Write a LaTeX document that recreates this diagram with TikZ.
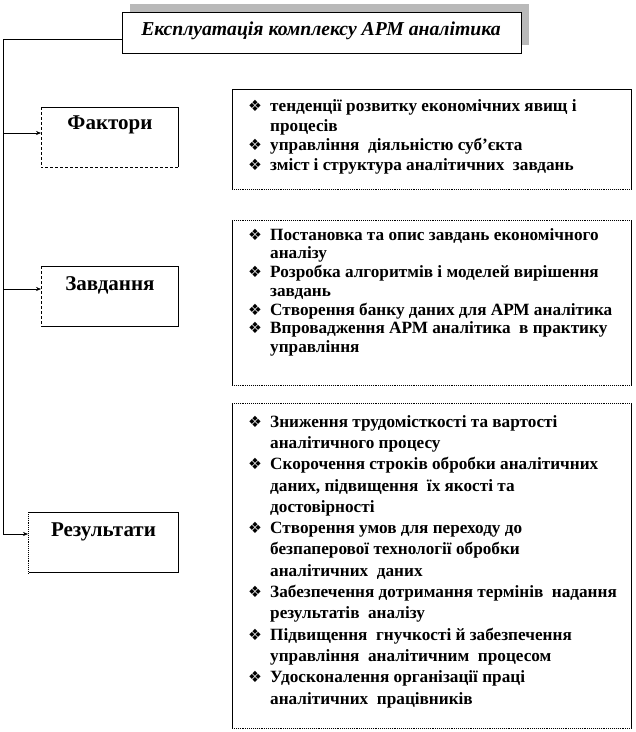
\documentclass[tikz,border=0pt]{standalone}
\usepackage{fontspec}
\setmainfont{Liberation Serif}
\newfontfamily\djv{DejaVu Sans}
\usetikzlibrary{arrows.meta}
\newcommand\bul{\makebox[22pt][l]{\smash{\djv\fontsize{15.5}{15.5}\selectfont ❖}}}
\newcommand\sm[1]{\smash{#1}}
\tikzset{
  frame/.style={draw, line width=0.9pt, inner sep=0pt, anchor=north west, fill=white},
  lbl/.style={font=\bfseries\fontsize{21}{25}\selectfont, inner sep=0pt},
  lst/.style={anchor=north west, inner sep=0pt, align=left},
  conn/.style={line width=0.6pt},
  arr/.style={conn, -{Stealth[length=5pt,width=4pt]}},
  dots/.style={densely dotted, line width=0.9pt}
}
\begin{document}
\begin{tikzpicture}[x=1pt,y=-1pt]
\useasboundingbox (0,0) rectangle (636,732);
% title with shadow
\node[fill=gray!55, minimum width=399pt, minimum height=41pt, inner sep=0pt, anchor=north west] (shadow) at (130,4) {};
\node[frame, minimum width=399pt, minimum height=41pt] (title) at (122,12) {};
\node[font=\bfseries\itshape\fontsize{19.7}{23}\selectfont, inner sep=0pt] (ttext) at (321,31) {Експлуатація комплексу АРМ аналітика};
% left boxes
\node[frame, minimum width=137pt, minimum height=60pt] (fak) at (41,107) {};
\node[lbl] (faktext) at (fak.north) [yshift=-18pt] {Фактори};
\node[frame, minimum width=137pt, minimum height=60pt] (zav) at (41,266) {};
\node[lbl] (zavtext) at (zav.north) [yshift=-19pt] {Завдання};
\node[frame, minimum width=150pt, minimum height=60pt] (res) at (28,512) {};
\node[lbl] (restext) at (res.north) [yshift=-20pt] {Результати};
% right boxes
\node[frame, minimum width=399pt, minimum height=100pt] (flist) at (232,89) {};
\node[frame, minimum width=399pt, minimum height=165pt] (zlist) at (232,220) {};
\node[frame, minimum width=399pt, minimum height=325pt] (rlist) at (232,403) {};
\draw[white, line width=1pt] (flist.south west) -- (flist.south east);
\draw[dots] (flist.south west) -- (flist.south east);
\draw[white, line width=1pt] (zlist.north west) -- (zlist.north east) (zlist.south west) -- (zlist.south east);
\draw[dots] (zlist.north west) -- (zlist.north east) (zlist.south west) -- (zlist.south east);
\draw[white, line width=1pt] (rlist.north west) -- (rlist.north east) (rlist.south west) -- (rlist.south east);
\draw[dots] (rlist.north west) -- (rlist.north east) (rlist.south west) -- (rlist.south east);
\draw[white, line width=1pt] (fak.north west) -- (fak.south west) -- (fak.south east);
\draw[densely dashed, line width=0.9pt] (fak.north west) -- (fak.south west) -- (fak.south east);
\draw[white, line width=1pt] (zav.north west) -- (zav.south west);
\draw[densely dashed, line width=0.9pt] (zav.north west) -- (zav.south west);
\draw[white, line width=1pt] (res.north west) -- (res.south west);
\draw[dots] (res.north west) -- (res.south west);
% list texts
\node[lst, font=\bfseries\fontsize{17.2}{19.5}\selectfont] (ftext) at (248,98) {%
\begin{tabular}{@{}l@{}l@{}}
\bul & \sm{тенденції розвитку економічних явищ і}\\
 & \sm{процесів}\\
\bul & \sm{управління\ \ діяльністю суб’єкта}\\
\bul & \sm{зміст і структура аналітичних\ \ завдань}
\end{tabular}};
\node[lst, font=\bfseries\fontsize{17.2}{18.7}\selectfont] (ztext) at (248,227) {%
\begin{tabular}{@{}l@{}l@{}}
\bul & \sm{Постановка та опис завдань економічного}\\
 & \sm{аналізу}\\
\bul & \sm{Розробка алгоритмів і моделей вирішення}\\
 & \sm{завдань}\\
\bul & \sm{Створення банку даних для АРМ аналітика}\\
\bul & \sm{Впровадження АРМ аналітика\ \ в практику}\\
 & \sm{управління}
\end{tabular}};
\node[lst, font=\bfseries\fontsize{17.2}{21.3}\selectfont] (rtext) at (248,412) {%
\begin{tabular}{@{}l@{}l@{}}
\bul & \sm{Зниження трудомісткості та вартості}\\
 & \sm{аналітичного процесу}\\
\bul & \sm{Скорочення строків обробки аналітичних}\\
 & \sm{даних, підвищення\ \ їх якості та}\\
 & \sm{достовірності}\\
\bul & \sm{Створення умов для переходу до}\\
 & \sm{безпаперової технології обробки}\\
 & \sm{аналітичних\ \ даних}\\
\bul & \sm{Забезпечення дотримання термінів\ \ надання}\\
 & \sm{результатів\ \ аналізу}\\
\bul & \sm{Підвищення\ \ гнучкості й забезпечення}\\
 & \sm{управління\ \ аналітичним\ \ процесом}\\
\bul & \sm{Удосконалення організації праці}\\
 & \sm{аналітичних\ \ працівників}
\end{tabular}};
% connectors
\coordinate (c0) at (3,39);
\coordinate (c1) at (3,133);
\coordinate (c2) at (3,289);
\coordinate (c3) at (3,534);
\draw[conn] (title.west |- c0) -- (c0) -- (c3);
\draw[arr] (c1) -- (c1 -| fak.west);
\draw[arr] (c2) -- (c2 -| zav.west);
\draw[arr] (c3) -- (c3 -| res.west);
\end{tikzpicture}
\end{document}
